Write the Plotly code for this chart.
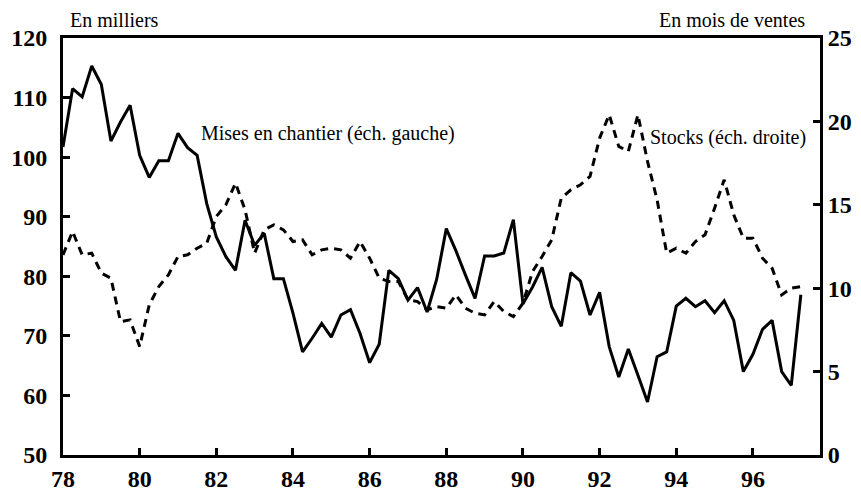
import plotly.graph_objects as go

# Quarterly data, 1978 Q1 to 1997 Q2
start_year = 78
n_quarters = 78
quarters = [start_year + i / 4 for i in range(n_quarters)]

# Mises en chantier (thousands, left axis)
mises = [101.7, 111.5, 110.1, 115.3, 112.2, 102.7, 105.9, 108.7, 100.3, 96.6,
         99.4, 99.4, 104.0, 101.6, 100.3, 92.2, 86.6, 83.3, 81.0, 89.4,
         85.2, 87.2, 79.6, 79.6, 73.8, 67.3, 69.6, 72.1, 69.8, 73.5,
         74.4, 70.4, 65.5, 68.6, 81.0, 79.6, 76.0, 78.1, 74.0, 79.5,
         88.0, 84.3, 80.2, 76.3, 83.4, 83.4, 83.9, 89.5, 75.4, 78.2,
         81.5, 74.9, 71.6, 80.6, 79.2, 73.5, 77.3, 68.2, 63.1, 67.8,
         63.4, 58.9, 66.5, 67.3, 75.0, 76.3, 74.9, 75.9, 73.9, 75.9,
         72.6, 64.0, 66.9, 71.1, 72.6, 64.0, 61.7, 76.9]

# Stocks (months of sales, right axis)
stocks = [12.0, 13.4, 12.0, 12.1, 10.9, 10.6, 8.0, 8.1, 6.5, 9.0,
          10.1, 10.8, 11.9, 12.0, 12.4, 12.7, 14.3, 15.0, 16.3, 14.7,
          12.1, 13.5, 13.8, 13.5, 12.8, 12.9, 12.0, 12.3, 12.4, 12.3,
          11.8, 12.8, 11.8, 10.6, 10.4, 10.4, 9.3, 9.2, 8.7, 8.9,
          8.8, 9.6, 8.8, 8.5, 8.4, 9.2, 8.6, 8.3, 9.1, 11.0,
          11.9, 12.9, 15.4, 15.9, 16.2, 16.7, 19.0, 20.4, 18.5, 18.2,
          20.4, 17.6, 15.3, 12.1, 12.4, 12.1, 12.8, 13.2, 14.8, 16.5,
          14.4, 13.0, 13.0, 11.8, 11.2, 9.6, 10.0, 10.1]

x_tickvals = [78, 80, 82, 84, 86, 88, 90, 92, 94, 96]
x_ticktext = ["78", "80", "82", "84", "86", "88", "90", "92", "94", "96"]
left_ticks = [50, 60, 70, 80, 90, 100, 110, 120]
right_ticks = [0, 5, 10, 15, 20, 25]

serif = "Liberation Serif"
tickfont = dict(family=serif, size=24, color="black", weight="bold")
textfont = dict(family=serif, size=20, color="black")

fig = go.Figure()
fig.add_trace(go.Scatter(x=quarters, y=mises, mode="lines",
                         line=dict(color="black", width=3),
                         name="Mises en chantier", yaxis="y"))
fig.add_trace(go.Scatter(x=quarters, y=stocks, mode="lines",
                         line=dict(color="black", width=3, dash="8px,6px"),
                         name="Stocks", yaxis="y2"))

# page body adds an 8px offset, so the figure is sized to fit the window
fig.update_layout(
    width=853, height=487,
    margin=dict(l=55, r=41, t=30, b=40),
    paper_bgcolor="white", plot_bgcolor="white",
    showlegend=False,
    xaxis=dict(range=[78, 97.75], tickvals=x_tickvals, ticktext=x_ticktext,
               ticks="inside", ticklen=7, tickwidth=2.5, tickcolor="black",
               showline=True, linewidth=3, linecolor="black", mirror=True,
               showgrid=False, zeroline=False, tickfont=tickfont,
               automargin=False, ticklabelstandoff=0),
    yaxis=dict(range=[50, 120], tickvals=left_ticks,
               ticks="inside", ticklen=7, tickwidth=2.5, tickcolor="black",
               showline=True, linewidth=3, linecolor="black",
               showgrid=False, zeroline=False, tickfont=tickfont,
               automargin=False, ticklabelstandoff=8),
    yaxis2=dict(range=[0, 25], tickvals=right_ticks, overlaying="y", side="right",
                ticks="inside", ticklen=7, tickwidth=2.5, tickcolor="black",
                showline=True, linewidth=3, linecolor="black",
                showgrid=False, zeroline=False, tickfont=tickfont,
                automargin=False, ticklabelstandoff=0),
    annotations=[
        dict(text="En milliers", xref="paper", yref="paper", x=0.006, y=1.042,
             xanchor="left", yanchor="middle", showarrow=False, font=textfont),
        dict(text="En mois de ventes", xref="paper", yref="paper", x=0.983, y=1.042,
             xanchor="right", yanchor="middle", showarrow=False, font=textfont),
        dict(text="Mises en chantier (éch. gauche)", xref="x", yref="y",
             x=81.54, y=104.0, xanchor="left", yanchor="middle",
             showarrow=False, font=textfont),
        dict(text="Stocks (éch. droite)", xref="x", yref="y",
             x=97.43, y=103.3, xanchor="right", yanchor="middle",
             showarrow=False, font=textfont),
    ],
)

fig.write_html("out.html")
